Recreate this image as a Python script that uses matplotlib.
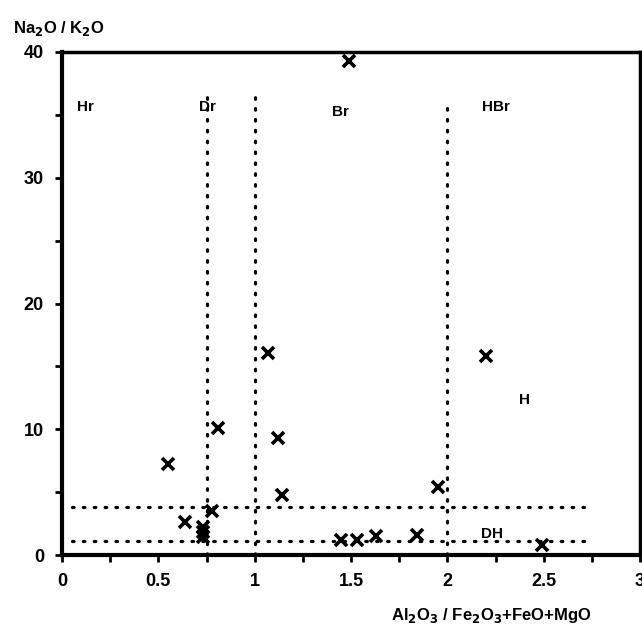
import numpy as np
import matplotlib
matplotlib.use('Agg')
import matplotlib.pyplot as plt

# Data
x_vals = [1.49, 1.07, 2.20, 0.81, 1.12, 0.55, 1.14, 1.95, 0.78, 0.64, 0.73, 0.73, 0.73,
          1.45, 1.53, 1.63, 1.84, 2.49]
y_vals = [39.3, 16.1, 15.8, 10.1, 9.3, 7.2, 4.8, 5.4, 3.5, 2.6, 2.2, 1.8, 1.4,
          1.2, 1.2, 1.5, 1.6, 0.8]

# field boundaries
v_lines = [0.75, 1.0, 2.0]
v_tops = [36.8, 36.8, 36.0]
h_lines = [3.8, 1.1]
h_end = 2.75

field_names = ['Hr', 'Dr', 'Br', 'HBr']
field_x = [0.08, 0.71, 1.40, 2.18]
field_y = [35.6, 35.6, 35.2, 35.6]

extra_labels = ['H', 'DH']
extra_x = [2.4, 2.23]
extra_y = [12.3, 1.7]

xticks = [0, 0.5, 1, 1.5, 2, 2.5, 3]
xtick_labels = ['0', '0.5', '1', '1.5', '2', '2.5', '3']
yticks = [0, 10, 20, 30, 40]

plt.rcParams['font.family'] = ['Liberation Sans', 'DejaVu Sans']
plt.rcParams['font.weight'] = 'bold'

fig = plt.figure(figsize=(6.42, 6.31), dpi=100)
ax = fig.add_axes([0.0966, 0.1204, 0.9004, 0.7972])

dots = (0, (0.5, 2.9))
for xv, top in zip(v_lines, v_tops):
    ax.plot([xv, xv], [0, top], color='black', lw=2.3, linestyle=dots, dash_capstyle='round')
for yv in h_lines:
    ax.plot([0.05, h_end], [yv, yv], color='black', lw=2.3, linestyle=dots, dash_capstyle='round')

ax.plot(x_vals, y_vals, linestyle='none', marker='x', color='black', ms=8, mew=2.6)

for name, fx, fy in zip(field_names, field_x, field_y):
    ax.text(fx, fy, name, fontsize=11, fontweight='bold', ha='left', va='center')
for name, fx, fy in zip(extra_labels, extra_x, extra_y):
    ax.text(fx, fy, name, fontsize=11, fontweight='bold', ha='center', va='center')

ax.set_xlim(0, 3)
ax.set_ylim(0, 40)
ax.set_xticks(xticks)
ax.set_xticklabels(xtick_labels)
ax.set_xticks(np.arange(0, 3.01, 0.25), minor=True)
ax.set_yticks(yticks)
ax.set_yticks(np.arange(0, 40.1, 5), minor=True)
ax.tick_params(axis='both', which='both', direction='out', width=2, labelsize=13)
ax.tick_params(axis='both', which='major', length=5, pad=8)
ax.tick_params(axis='both', which='minor', length=5)
for lab in ax.get_xticklabels() + ax.get_yticklabels():
    lab.set_fontweight('bold')

for side in ['left', 'bottom']:
    ax.spines[side].set_linewidth(3)
for side in ['top', 'right']:
    ax.spines[side].set_linewidth(2.5)

fig.text(0.02, 0.955, r'Na$_2$O / K$_2$O', fontsize=12, fontweight='bold',
         ha='left', va='center')
fig.text(0.765, 0.025, r'Al$_2$O$_3$ / Fe$_2$O$_3$+FeO+MgO', fontsize=12,
         fontweight='bold', ha='center', va='center')

fig.savefig('out.png', dpi=100)
